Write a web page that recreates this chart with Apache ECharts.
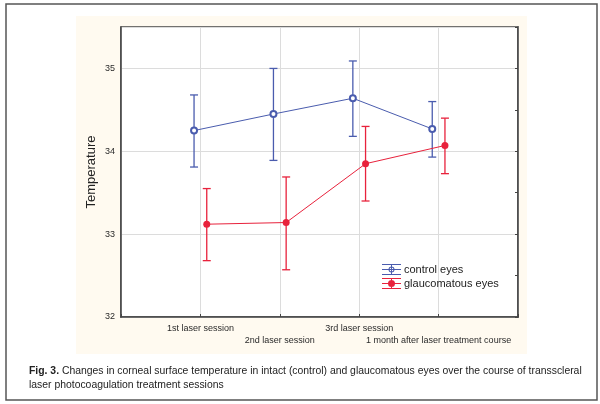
<!DOCTYPE html>
<html>
<head>
<meta charset="utf-8">
<script src="https://cdn.jsdelivr.net/npm/echarts@6/dist/echarts.min.js"></script>
<style>html,body{margin:0;padding:0;background:#fff;}#c{width:600px;height:404px;}</style>
</head>
<body>
<div id="c"></div>
<script>
var categories = ['1st laser session', '2nd laser session', '3rd laser session', '1 month after laser treatment course'];
var controlMean = [34.25, 34.45, 34.64, 34.27];
var controlLow  = [33.81, 33.89, 34.18, 33.93];
var controlHigh = [34.68, 35.00, 35.09, 34.60];
var glaucMean = [33.12, 33.14, 33.85, 34.07];
var glaucLow  = [32.68, 32.57, 33.40, 33.73];
var glaucHigh = [33.55, 33.69, 34.30, 34.40];
var yTicks = [32, 33, 34, 35];
var seriesNames = ['control eyes', 'glaucomatous eyes'];

var BLUE = '#4a5cae';
var RED = '#e8223c';
var OFF = 0.08;

function pts(mean, off) { return mean.map(function (v, i) { return [i + 1 + off, v]; }); }
function bars(low, high, off) { return low.map(function (v, i) { return [i + 1 + off, v, high[i]]; }); }

function errRender(color) {
  return function (params, api) {
    var x = api.value(0);
    var lo = api.coord([x, api.value(1)]);
    var hi = api.coord([x, api.value(2)]);
    var w = 4;
    var st = { stroke: color, lineWidth: 1.3 };
    return { type: 'group', children: [
      { type: 'line', shape: { x1: lo[0], y1: lo[1], x2: hi[0], y2: hi[1] }, style: st },
      { type: 'line', shape: { x1: lo[0] - w, y1: lo[1], x2: lo[0] + w, y2: lo[1] }, style: st },
      { type: 'line', shape: { x1: hi[0] - w, y1: hi[1], x2: hi[0] + w, y2: hi[1] }, style: st }
    ]};
  };
}

var lines = 'M0,0h19v1h-19z M0,10h19v1h-19z M0,5h19v1h-19z M9,0h1v11h-1z ';
var iconControl = 'path://' + lines + 'M6.5,5.5a3,3 0 1,1 6,0a3,3 0 1,1 -6,0z M7.5,5.5a2,2 0 1,0 4,0a2,2 0 1,0 -4,0z';
var iconGlauc = 'path://' + lines + 'M6,5.5a3.5,3.5 0 1,1 7,0a3.5,3.5 0 1,1 -7,0z';

var chart = echarts.init(document.getElementById('c'));
chart.setOption({
  animation: false,
  backgroundColor: '#ffffff',
  graphic: [
    { type: 'rect', z: -10, shape: { x: 6, y: 4, width: 591, height: 396 }, style: { fill: '#ffffff', stroke: '#555', lineWidth: 1.5 } },
    { type: 'rect', z: -9, shape: { x: 76, y: 16, width: 451, height: 338 }, style: { fill: '#fffaf0' } }
  ],
  title: {
    left: 24, top: 359,
    text: '{b|Fig. 3.} Changes in corneal surface temperature in intact (control) and glaucomatous eyes over the course of transscleral\nlaser photocoagulation treatment sessions',
    textStyle: {
      fontFamily: 'Liberation Sans, Arial, sans-serif',
      fontSize: 10.4, fontWeight: 'normal', color: '#222', lineHeight: 14,
      rich: { b: { fontFamily: 'Liberation Sans, Arial, sans-serif', fontWeight: 'bold', fontSize: 10.4, color: '#222', lineHeight: 14 } }
    }
  },
  legend: {
    left: 377, top: 259, orient: 'vertical', itemGap: 3,
    itemWidth: 19, itemHeight: 11,
    textStyle: { fontFamily: 'Liberation Sans, Arial, sans-serif', fontSize: 11, color: '#222', padding: [0, 0, 0, -2] },
    data: [
      { name: seriesNames[0], icon: iconControl, itemStyle: { color: BLUE, borderWidth: 0 } },
      { name: seriesNames[1], icon: iconGlauc, itemStyle: { color: RED, borderWidth: 0 } }
    ]
  },
  grid: { left: 121, top: 27, right: 82, bottom: 87, show: true, backgroundColor: '#ffffff', borderColor: '#444', borderWidth: 1.5 },
  xAxis: {
    type: 'value', min: 0, max: 5, interval: 1,
    axisLine: { show: true, lineStyle: { color: '#444', width: 1.5 } },
    axisTick: { show: true, inside: true, length: 3, lineStyle: { color: '#444' } },
    splitLine: { show: true, lineStyle: { color: '#dcdcdc', width: 1 } },
    axisLabel: {
      margin: 5, fontSize: 9, lineHeight: 12.5, color: '#2a2a2a', fontFamily: 'Liberation Sans, Arial, sans-serif',
      formatter: function (v) {
        var i = Math.round(v) - 1;
        if (i < 0 || i >= categories.length || Math.abs(v - i - 1) > 1e-6) return '';
        return (i % 2 === 1 ? '\n' : '') + categories[i];
      }
    }
  },
  yAxis: [{
    type: 'value', min: 32, max: 35.5, interval: 1,
    name: 'Temperature', nameLocation: 'middle', nameGap: 23, nameMoveOverlap: false,
    nameTextStyle: { fontSize: 13, color: '#222', fontFamily: 'Liberation Sans, Arial, sans-serif' },
    axisLine: { show: true, lineStyle: { color: '#444', width: 1.5 } },
    axisTick: { show: false },
    splitLine: { show: true, lineStyle: { color: '#dcdcdc', width: 1 } },
    axisLabel: {
      margin: 6, fontSize: 9, color: '#2a2a2a', fontFamily: 'Liberation Sans, Arial, sans-serif',
      formatter: function (v) { return yTicks.indexOf(v) >= 0 ? String(v) : ''; }
    }
  }, {
    type: 'value', min: 32, max: 35.5, interval: 0.5, position: 'right',
    axisLine: { show: true, lineStyle: { color: '#444', width: 1.5 } },
    axisTick: { show: true, inside: true, length: 3, lineStyle: { color: '#444' } },
    axisLabel: { show: false }, splitLine: { show: false }
  }],
  series: [
    { type: 'custom', name: 'ctrlErr', renderItem: errRender(BLUE), data: bars(controlLow, controlHigh, -OFF), encode: { x: 0, y: [1, 2] }, z: 2 },
    { type: 'custom', name: 'glErr', renderItem: errRender(RED), data: bars(glaucLow, glaucHigh, OFF), encode: { x: 0, y: [1, 2] }, z: 2 },
    { type: 'line', name: seriesNames[0], data: pts(controlMean, -OFF), symbol: 'emptyCircle', symbolSize: 6,
      color: BLUE, lineStyle: { color: BLUE, width: 1 }, itemStyle: { color: BLUE, borderWidth: 1 }, z: 3 },
    { type: 'line', name: seriesNames[1], data: pts(glaucMean, OFF), symbol: 'circle', symbolSize: 7,
      color: RED, lineStyle: { color: RED, width: 1 }, itemStyle: { color: RED }, z: 3 }
  ]
});
</script>
</body>
</html>
